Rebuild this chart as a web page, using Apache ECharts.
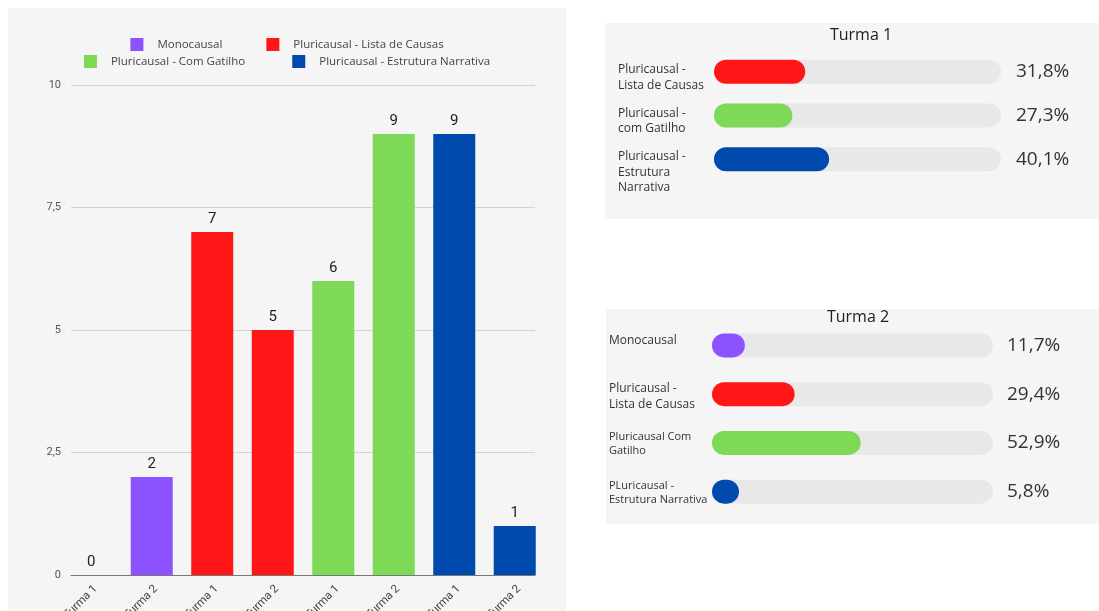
<!DOCTYPE html>
<html>
<head>
<meta charset="utf-8">
<script src="https://cdn.jsdelivr.net/npm/echarts@6/dist/echarts.min.js"></script>
<style>
  html, body { margin: 0; padding: 0; background: #ffffff; width: 1099px; height: 611px; overflow: hidden; }
  .box { position: absolute; }
  #bars { left: 8px; top: 8px; width: 558px; height: 603px; }
  #turma1 { left: 605px; top: 23px; width: 494px; height: 196px; }
  #turma2 { left: 606px; top: 309px; width: 493px; height: 215px; }
</style>
</head>
<body>
<div id="bars" class="box"></div>
<div id="turma1" class="box"></div>
<div id="turma2" class="box"></div>
<script>
// ---- data ----
const barCategories = ['Turma 1', 'Turma 2', 'Turma 1', 'Turma 2', 'Turma 1', 'Turma 2', 'Turma 1', 'Turma 2'];
const seriesNames = ['Monocausal', 'Pluricausal - Lista de Causas', 'Pluricausal - Com Gatilho', 'Pluricausal - Estrutura Narrativa'];
const monocausal = [0, 2];
const listaDeCausas = [7, 5];
const comGatilho = [6, 9];
const estruturaNarrativa = [9, 1];

const turma1Labels = ['Pluricausal -\nLista de Causas', 'Pluricausal -\ncom Gatilho', 'Pluricausal -\nEstrutura\nNarrativa'];
const turma1Pct = [31.8, 27.3, 40.1];
const turma2Labels = ['Monocausal', 'Pluricausal -\nLista de Causas', 'Pluricausal Com\nGatilho', 'PLuricausal -\nEstrutura Narrativa'];
const turma2Pct = [11.7, 29.4, 52.9, 5.8];

// ---- palette ----
const PURPLE = '#8c52ff', RED = '#ff1616', GREEN = '#7ed957', BLUE = '#004aad';
const groupColors = [PURPLE, RED, GREEN, BLUE];
const FONT = "'Open Sans', sans-serif";

const fmtPct = v => v.toFixed(1).replace('.', ',') + '%';

// ---- grouped column chart ----
const groups = [monocausal, listaDeCausas, comGatilho, estruturaNarrativa];
// each group occupies its own pair of slots on the category axis
const slotData = (vals, g) => barCategories.map((_, i) => (Math.floor(i / 2) === g ? vals[i % 2] : '-'));

const barChart = echarts.init(document.getElementById('bars'), null, { renderer: 'canvas' });
const legendText = { fontFamily: FONT, fontSize: 11.5, color: '#444', padding: [0, 0, 0, 9] };
barChart.setOption({
  backgroundColor: '#f5f5f5',
  animation: false,
  legend: [
    { data: [seriesNames[0], seriesNames[1]], top: 30, left: 'center', padding: 0, icon: 'rect', itemWidth: 13, itemHeight: 13, itemGap: 44, textStyle: legendText },
    { data: [seriesNames[2], seriesNames[3]], top: 47, left: 'center', padding: 0, icon: 'rect', itemWidth: 13, itemHeight: 13, itemGap: 47, textStyle: legendText }
  ],
  grid: [
    { left: 53, right: 21, top: 77, bottom: 36, outerBoundsMode: 'none' },
    { left: 63, right: 31, top: 77, bottom: 36, outerBoundsMode: 'none' }
  ],
  xAxis: [
    {
      gridIndex: 0, type: 'category', data: barCategories,
      axisLine: { show: false }, axisTick: { show: false },
      axisLabel: { interval: 0, rotate: 45, margin: 8, verticalAlign: 'top', fontFamily: 'Roboto', fontSize: 11.5, color: '#444' }
    },
    {
      gridIndex: 1, type: 'category', data: barCategories,
      axisLine: { show: true, lineStyle: { color: '#777', width: 1 } }, axisTick: { show: false }, axisLabel: { show: false }
    }
  ],
  yAxis: [
    { gridIndex: 0, type: 'value', min: 0, max: 10, interval: 2.5, show: false },
    {
      gridIndex: 1, type: 'value', min: 0, max: 10, interval: 2.5,
      axisLine: { show: false }, axisTick: { show: false },
      axisLabel: { margin: 10, fontFamily: 'Roboto', fontSize: 11, color: '#555', formatter: v => String(v).replace('.', ',') },
      splitLine: { lineStyle: { color: '#d3d3d3', width: 1 } }
    }
  ],
  series: groups.map((vals, g) => ({
    name: seriesNames[g],
    type: 'bar',
    xAxisIndex: 0, yAxisIndex: 0,
    stack: 'slot',
    barWidth: 42,
    z: 3,
    data: slotData(vals, g),
    itemStyle: { color: groupColors[g] },
    label: { show: true, position: 'top', distance: 5, fontFamily: 'Roboto', fontSize: 15, color: '#222' }
  }))
});

// ---- progress-bar panels ----
function progressPanel(el, cfg) {
  const chart = echarts.init(el, null, { renderer: 'canvas' });
  chart.setOption({
    backgroundColor: '#f5f5f5',
    animation: false,
    title: {
      text: cfg.title, left: cfg.titleX, top: cfg.titleTop, padding: 0, textAlign: 'center',
      textStyle: { fontFamily: FONT, fontSize: 16, fontWeight: 'normal', color: '#222' }
    },
    grid: Object.assign({ outerBoundsMode: 'none' }, cfg.grid),
    xAxis: { type: 'value', min: 0, max: 100, show: false },
    yAxis: [
      {
        type: 'category', data: cfg.labels, inverse: true,
        axisLine: { show: false }, axisTick: { show: false }, splitLine: { show: false },
        axisLabel: {
          align: 'left', verticalAlign: 'top', margin: cfg.labelMargin, padding: [cfg.labelShift, 0, 0, 0],
          lineHeight: 15.5, fontFamily: FONT, fontSize: 12, color: '#333',
          formatter: (v, i) => (cfg.smallFrom != null && i >= cfg.smallFrom ? '{s|' + v + '}' : v),
          rich: { s: { fontFamily: FONT, fontSize: 11, lineHeight: 14, color: '#333' } }
        }
      },
      {
        type: 'category', position: 'right', data: cfg.labels, inverse: true,
        axisLine: { show: false }, axisTick: { show: false }, splitLine: { show: false },
        axisLabel: {
          align: 'left', margin: cfg.valueMargin, fontFamily: FONT, fontSize: 19, color: '#333',
          formatter: (v, i) => fmtPct(cfg.values[i])
        }
      }
    ],
    series: [{
      type: 'bar',
      yAxisIndex: 0,
      data: cfg.values,
      barWidth: 24,
      barMinHeight: cfg.minLen || 0,
      showBackground: true,
      backgroundStyle: { color: '#e8e8e8', borderRadius: 12 },
      itemStyle: { borderRadius: 12, color: p => cfg.colors[p.dataIndex] }
    }]
  });
  return chart;
}

progressPanel(document.getElementById('turma1'), {
  title: 'Turma 1', titleX: 256, titleTop: 4,
  labels: turma1Labels, values: turma1Pct, colors: [RED, GREEN, BLUE],
  grid: { left: 109, width: 287, top: 27, height: 131 },
  labelMargin: 96, labelShift: -10, valueMargin: 15
});

progressPanel(document.getElementById('turma2'), {
  title: 'Turma 2', titleX: 252, titleTop: 0,
  labels: turma2Labels, values: turma2Pct, colors: [PURPLE, RED, GREEN, BLUE],
  grid: { left: 106, width: 281, top: 12, height: 195 },
  labelMargin: 103, labelShift: -13, valueMargin: 14, minLen: 27, smallFrom: 2
});
</script>
</body>
</html>
